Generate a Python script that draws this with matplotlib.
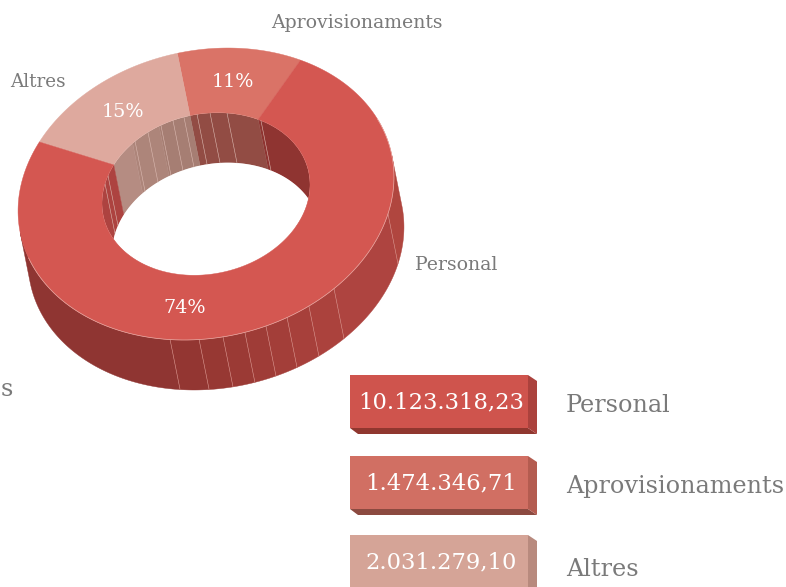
import numpy as np
import matplotlib
matplotlib.use('Agg')
import matplotlib.pyplot as plt
from matplotlib.patches import Polygon, Rectangle

categories = ['Aprovisionaments', 'Altres', 'Personal']
values = [1474346.71, 2031279.10, 10123318.23]
value_labels = ['1.474.346,71', '2.031.279,10', '10.123.318,23']

top_colors = ['#da7367', '#dea99e', '#d45751']

# where the thin lines sit on the walls (x of the rim)
outer_band_x = [170, 199, 223, 245, 266, 287, 309, 334, 388]
outer_band_colors = ['#8f3532', '#933632', '#973833', '#9b3a35', '#9f3c37',
                     '#a33e39', '#a7403b', '#ab423d', '#ae4440', '#b0463f']
inner_band_x = [105, 108, 135, 148, 161, 173, 184, 197, 210, 227, 261]

CX, CY = 206, 194
TILT = np.radians(12.25)
A, B = 189.8, 143.6
IA, IB = 105, 80
DX, DY = 10, 50
START = 50.5
FONT = 'DejaVu Serif'
GREY = '#7a7a7a'


def ellipse(t_deg, a, b, dx=0, dy=0):
    t = np.radians(t_deg)
    u = a * np.cos(t)
    v = b * np.sin(t)
    x = CX + u * np.cos(TILT) - v * np.sin(TILT) + dx
    y = CY - u * np.sin(TILT) - v * np.cos(TILT) + dy
    return np.column_stack([x, y])


def t_from_x(x0, a, b, lo, hi):
    ts = np.linspace(lo, hi, 2000)
    return ts[np.argmin(np.abs(ellipse(ts, a, b)[:, 0] - x0))]


def tangent(a, b, lo, hi):
    # point of the rim where the extrusion direction runs along the curve
    ts = np.linspace(lo, hi, 4000)
    pts = ellipse(ts, a, b)
    d = np.gradient(pts, axis=0)
    return ts[np.argmin(np.abs(d[:, 0] * DY - d[:, 1] * DX))]


def wall(t0, t1, a, b):
    ts = np.linspace(t0, t1, 60)
    return np.vstack([ellipse(ts, a, b), ellipse(ts[::-1], a, b, DX, DY)])


fig = plt.figure(figsize=(7.86, 5.87), dpi=100)
ax = fig.add_axes([0, 0, 1, 1])
ax.set_xlim(0, 786)
ax.set_ylim(587, 0)
ax.axis('off')

# slice limits from the values
shares = np.array(values) / sum(values)
limits = START + np.concatenate([[0], np.cumsum(shares) * 360])

# outer wall
ts = [t_from_x(x, A, B, 185, 365) for x in outer_band_x]
edges = [tangent(A, B, 140, 220)] + ts + [tangent(A, B, 340, 420)]
for i, c in enumerate(outer_band_colors):
    ax.add_patch(Polygon(wall(edges[i], edges[i + 1], A, B), fc=c, ec=c, lw=0.3))
for t in ts:
    p = ellipse(np.array([t, t]), A, B, np.array([0, DX]), np.array([0, DY]))
    ax.plot(p[:, 0], p[:, 1], color='#d8928b', lw=0.4)

# inner wall, only the back side shows through the hole
hole = ellipse(np.linspace(0, 360, 361), IA, IB)
hole_patch = Polygon(hole, fc='white', ec='none')
ax.add_patch(hole_patch)
inner_parts = [(-40, limits[0], '#8f3431'),
               (limits[0], limits[1], '#924c44'),
               (limits[1], limits[1] + 18, '#a67e73'),
               (limits[1] + 18, limits[1] + 36, '#ad857a'),
               (limits[1] + 36, limits[2], '#b58c82'),
               (limits[2], 230, '#ad4340')]
for t0, t1, c in inner_parts:
    pt = Polygon(wall(t0, t1, IA, IB), fc=c, ec=c, lw=0.3)
    ax.add_patch(pt)
    pt.set_clip_path(hole_patch)
for x in inner_band_x:
    t = t_from_x(x, IA, IB, 30, 200)
    p = ellipse(np.array([t, t]), IA, IB, np.array([0, DX]), np.array([0, DY]))
    ln, = ax.plot(p[:, 0], p[:, 1], color='#dcbab2', lw=0.4)
    ln.set_clip_path(hole_patch)
floor = Polygon(ellipse(np.linspace(0, 360, 361), IA, IB, DX, DY), fc='white', ec='none')
ax.add_patch(floor)
floor.set_clip_path(hole_patch)

# top face
for i, c in enumerate(top_colors):
    ts = np.linspace(limits[i], limits[i + 1], 200)
    pts = np.vstack([ellipse(ts, A, B), ellipse(ts[::-1], IA, IB)])
    ax.add_patch(Polygon(pts, fc=c, ec=c, lw=0.3))
rim = ellipse(np.linspace(190, 375, 200), A, B)
ax.plot(rim[:, 0], rim[:, 1], color='#e8a9a3', lw=0.5)

# percent labels
pct_xy = [(233, 82), (123, 112), (185, 308)]
for share, (x, y) in zip(shares, pct_xy):
    ax.text(x, y, '%d%%' % round(share * 100), color='white', fontsize=13.8,
            family=FONT, ha='center', va='center')

# slice labels
ax.text(357, 23, categories[0], color=GREY, fontsize=13.6, family=FONT, ha='center', va='center')
ax.text(38, 82, categories[1], color=GREY, fontsize=13.2, family=FONT, ha='center', va='center')
ax.text(456, 265, categories[2], color=GREY, fontsize=13.6, family=FONT, ha='center', va='center')
ax.text(13, 389, 's', color=GREY, fontsize=17.2, family=FONT, ha='right', va='center')

# legend blocks
block_top = [375, 456, 535]
legend_order = [2, 0, 1]
front = ['#cf544d', '#d16f63', '#d5a497']
side = ['#ab423d', '#b45c50', '#b88a7e']
under = ['#90372f', '#8c4a40', '#8f6a60']
label_y = [405, 487, 569]
for i, k in enumerate(legend_order):
    y = block_top[i]
    ax.add_patch(Polygon([(350, y + 53), (528, y + 53), (537, y + 59), (358, y + 59)], fc=under[i], ec='none'))
    ax.add_patch(Polygon([(528, y), (537, y + 6), (537, y + 59), (528, y + 53)], fc=side[i], ec='none'))
    ax.add_patch(Rectangle((350, y), 178, 53, fc=front[i], ec='none'))
    ax.text(441, y + 27, value_labels[k], color='white', fontsize=16.3, family=FONT,
            ha='center', va='center')
    ax.text(566, label_y[i], categories[k], color=GREY, fontsize=17.2, family=FONT,
            ha='left', va='center')

fig.savefig('out.png', dpi=100)
